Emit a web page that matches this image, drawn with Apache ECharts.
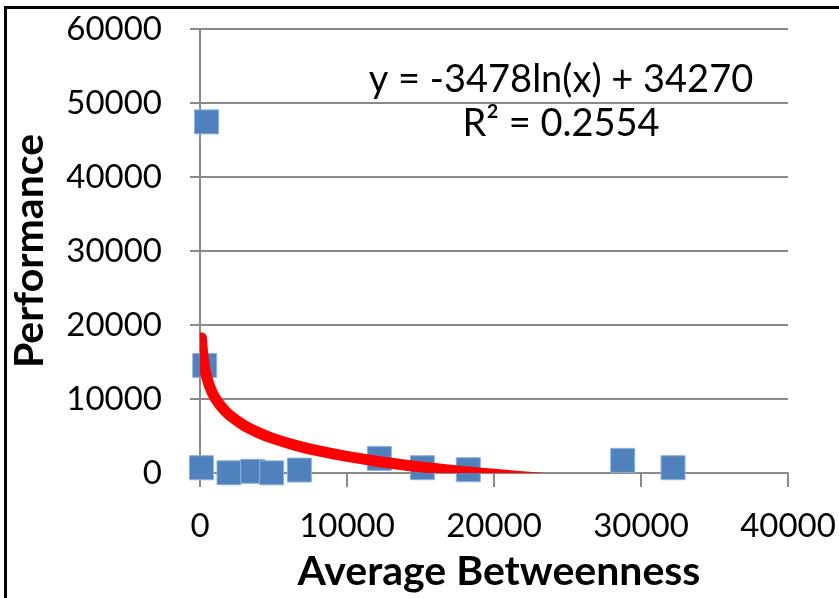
<!DOCTYPE html>
<html>
<head>
<meta charset="utf-8">
<script src="https://cdn.jsdelivr.net/npm/echarts@6/dist/echarts.min.js"></script>
<style>
    body { margin: 0; background: #ffffff; }
    #chart { position: absolute; left: 0; top: 0; width: 839px; height: 598px; }
    .frame {
        position: absolute; left: 4px; top: 6px; width: 900px; height: 700px;
        border-left: 3px solid #000; border-top: 3px solid #000;
        pointer-events: none;
    }
</style>
</head>
<body>
<div id="chart"></div>
<div class="frame"></div>
<script>
// Points
const betweenness = [442, 320, 100, 1973, 3585, 4876, 6757, 12200, 15125, 18250, 28755, 32180];
const performance = [47450, 14540, 710, 30, 230, 20, 400, 1975, 715, 445, 1710, 715];

// Courbe de tendance (y = -3478ln(x) + 34270), lue le long du trait rouge
const trendX = [100, 150, 200, 300, 400, 600, 800, 1000, 1500, 2000, 3000, 4000, 5000,
    6500, 8000, 10000, 12500, 15000, 17500, 20000, 23000, 26000, 29000, 32180];
const trendY = [18253, 16843, 15843, 14432, 13432, 12021, 11021, 10245, 8835, 7834, 6424, 5423, 4647,
    3735, 3012, 2236, 1460, 826, 290, -174, -661, -1087, -1467, -1829];

// Axes
const xMin = 0, xMax = 40000, xStep = 10000;
const yMin = 0, yMax = 60000, yStep = 10000;

const equationLines = ['y = -3478ln(x) + 34270', 'R² = 0.2554'];

document.addEventListener('DOMContentLoaded', function() {
    const chart = echarts.init(document.getElementById('chart'));
    const gridColor = '#8a8a8a';
    const font = 'Lato';

    const points = betweenness.map((x, i) => [x, performance[i]]);
    const trend = trendX.map((x, i) => [x, trendY[i]]);

    const option = {
        animation: false,
        backgroundColor: '#ffffff',
        grid: { left: 200, right: 51, top: 29, bottom: 125, containLabel: false },
        xAxis: {
            type: 'value',
            min: xMin, max: xMax, interval: xStep,
            name: 'Average Betweenness',
            nameLocation: 'middle',
            nameGap: 78,
            nameTextStyle: { color: '#000', fontFamily: font, fontWeight: 'bold', fontSize: 41, padding: [0, 0, 0, 10] },
            axisLine: { show: true, lineStyle: { color: gridColor, width: 2 } },
            axisTick: { show: true, inside: false, length: 14, lineStyle: { color: gridColor, width: 2 } },
            axisLabel: { color: '#000', fontFamily: font, fontSize: 33, margin: 37, formatter: v => String(v) },
            splitLine: { show: false }
        },
        yAxis: {
            type: 'value',
            min: yMin, max: yMax, interval: yStep,
            name: 'Performance',
            nameLocation: 'middle',
            nameGap: 150,
            nameRotate: 90,
            nameTextStyle: { color: '#000', fontFamily: font, fontWeight: 'bold', fontSize: 41 },
            axisLine: { show: true, lineStyle: { color: gridColor, width: 2 } },
            axisTick: { show: true, inside: false, length: 10, lineStyle: { color: gridColor, width: 2 } },
            axisLabel: { color: '#000', fontFamily: font, fontSize: 33, margin: 38, formatter: v => String(v) },
            splitLine: { show: true, lineStyle: { color: gridColor, width: 2 } }
        },
        graphic: [
            {
                type: 'text', x: 561, y: 80, z: 10,
                style: { text: equationLines[0], fill: '#000', font: '38px Lato', align: 'center', verticalAlign: 'middle' }
            },
            {
                type: 'text', x: 561, y: 124, z: 10,
                style: { text: equationLines[1], fill: '#000', font: '38px Lato', align: 'center', verticalAlign: 'middle' }
            }
        ],
        series: [
            {
                type: 'scatter',
                data: points,
                symbol: 'rect',
                symbolSize: 24,
                itemStyle: { color: '#4f81bd', borderColor: '#8fb0d8', borderWidth: 1, opacity: 1 },
                z: 2
            },
            {
                // trait épais coupé net au bord de la grille (comme Excel)
                type: 'custom',
                data: trend,
                clip: true,
                z: 3,
                renderItem: function(params, api) {
                    if (params.dataIndex !== 0) return;
                    const pts = trend.map(p => api.coord(p));
                    return {
                        type: 'polyline',
                        shape: { points: pts, smooth: 0.3 },
                        style: { stroke: '#ff0000', lineWidth: 11, fill: null, lineCap: 'round', lineJoin: 'round' }
                    };
                }
            }
        ]
    };

    chart.setOption(option);
});
</script>
</body>
</html>
